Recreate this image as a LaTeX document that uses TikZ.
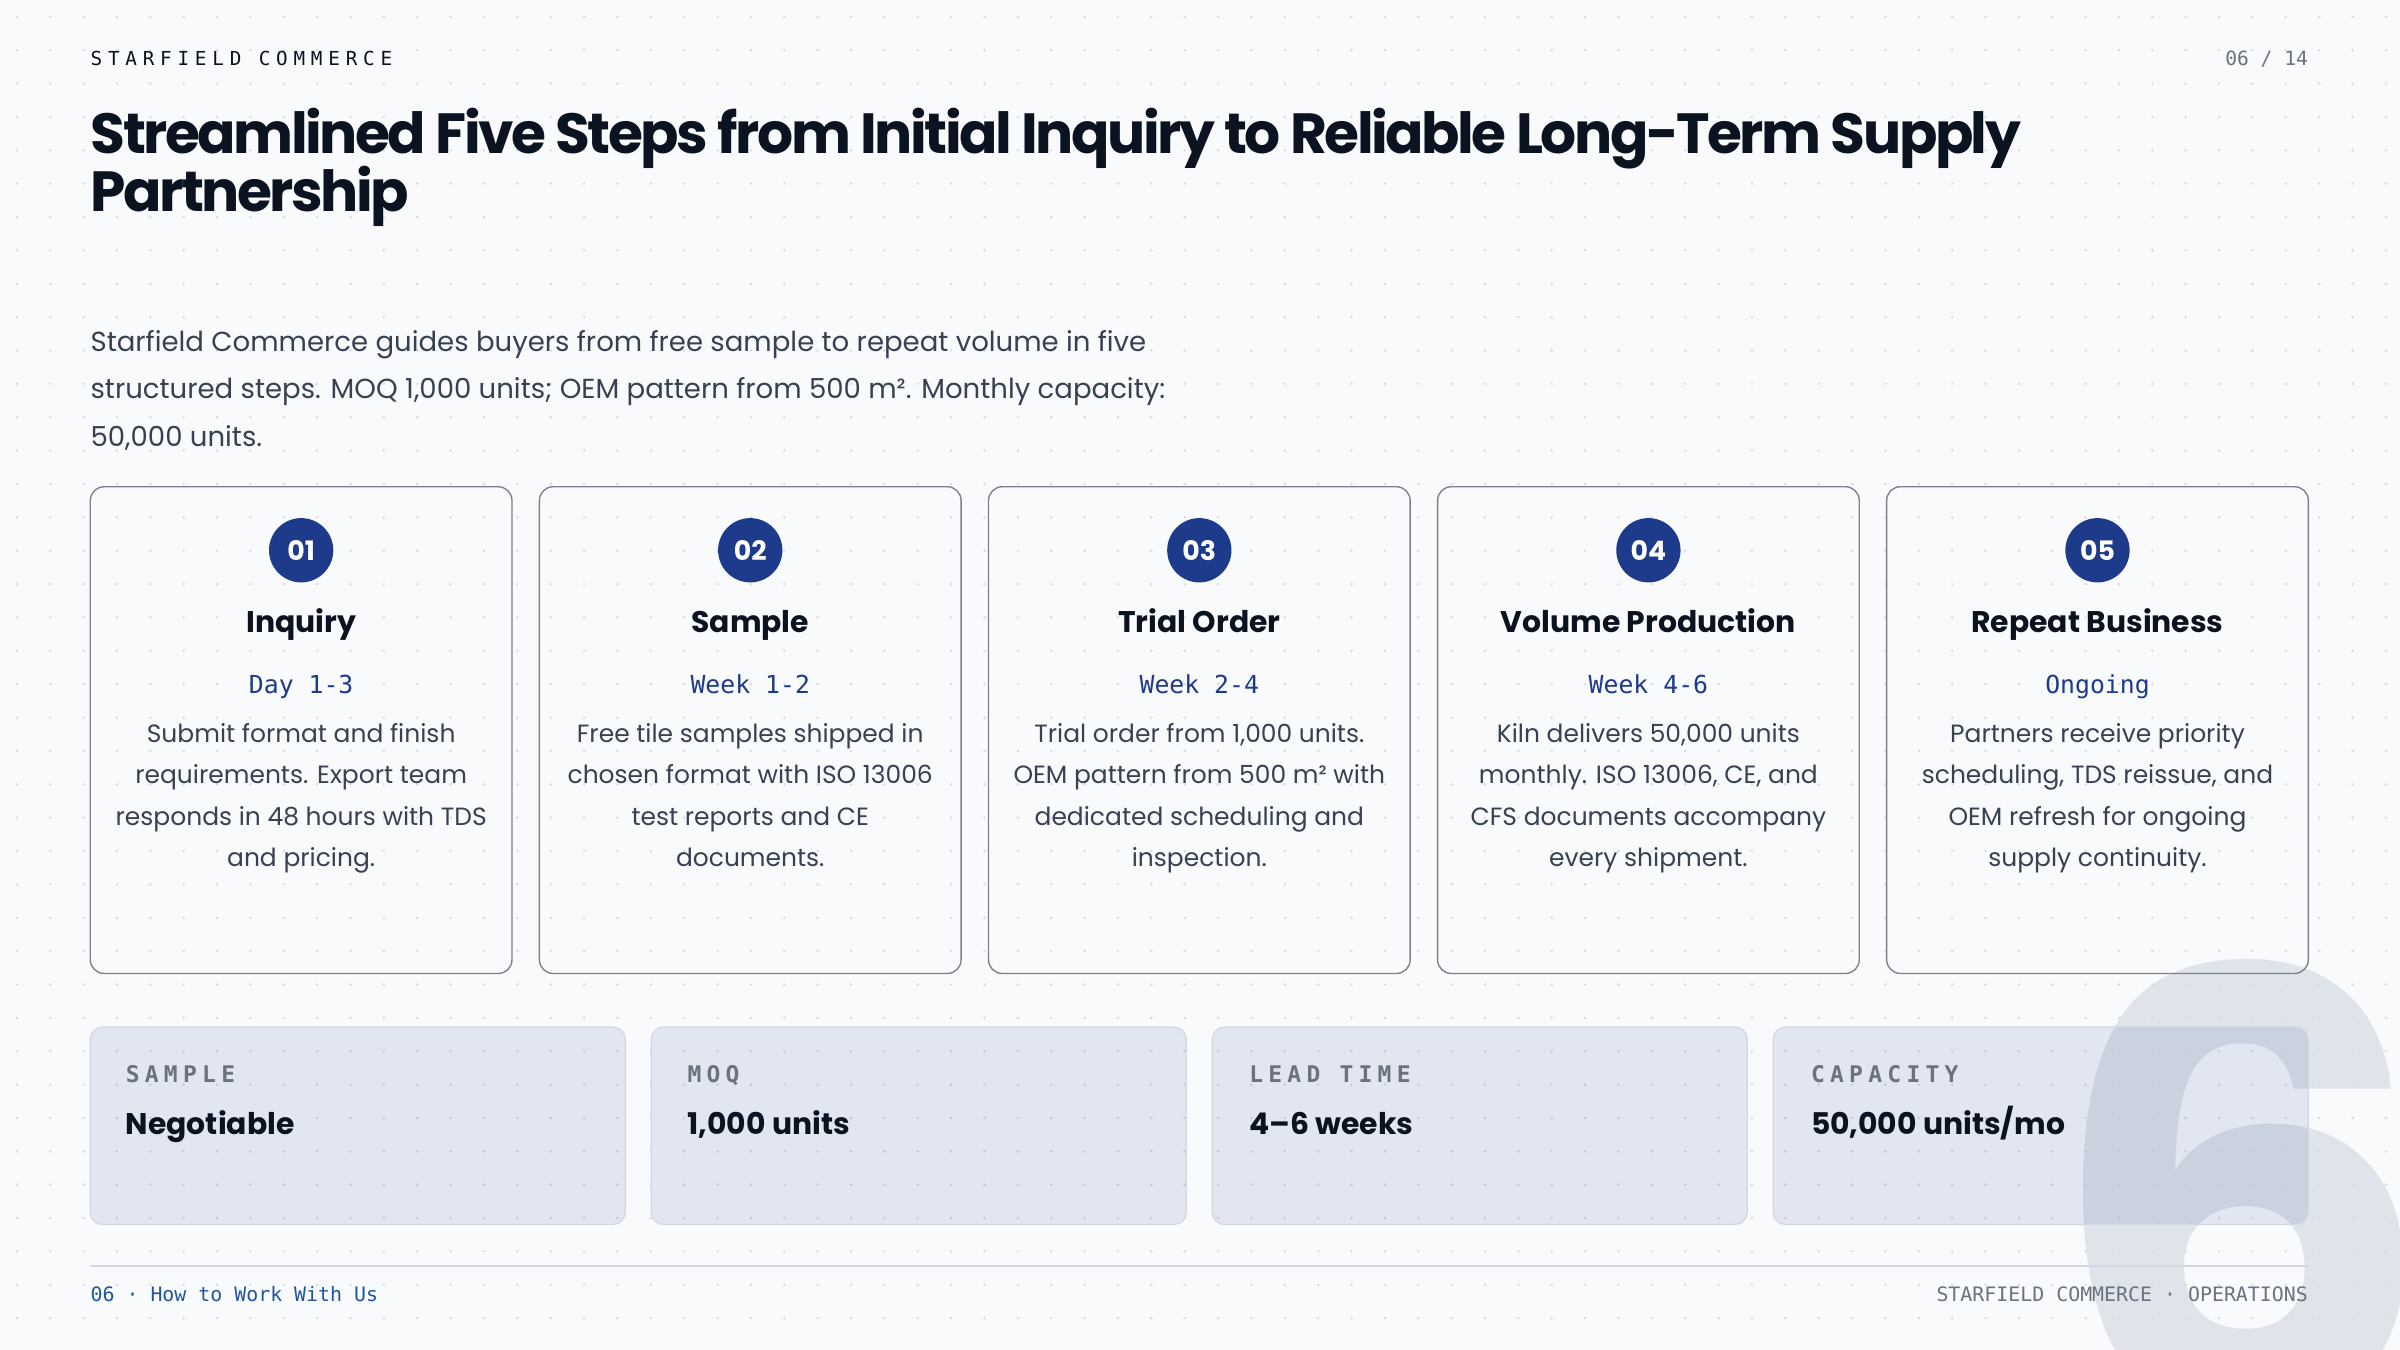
\documentclass[tikz,border=0pt]{standalone}
\usepackage{fontspec}
\setmainfont{Poppins}
\newfontfamily\monof{DejaVu Sans Mono}
\newfontfamily\monosp{DejaVu Sans Mono}[LetterSpace=30]
\newfontfamily\monolab{DejaVu Sans Mono}[LetterSpace=23]
\newfontfamily\titlef{Poppins}[LetterSpace=-4.4]
\definecolor{bgc}{HTML}{F8FAFC}
\definecolor{dotc}{HTML}{D3D9E1}
\definecolor{ink}{HTML}{0B1220}
\definecolor{bodyc}{HTML}{374151}
\definecolor{navy}{HTML}{1E3A8A}
\definecolor{grayc}{HTML}{6B7280}
\definecolor{cardline}{HTML}{7C828C}
\definecolor{statline}{HTML}{D2D7E0}
\definecolor{footblue}{HTML}{22569C}
\definecolor{sixc}{HTML}{94A3B8}
\begin{document}
\begin{tikzpicture}[x=1pt,y=-1pt,
  txt/.style={inner sep=0pt, anchor=base},
  card/.style={draw=cardline, line width=0.9pt, rounded corners=9pt, minimum width=275.5pt, minimum height=318pt, inner sep=0pt},
  stat/.style={draw=statline, line width=0.8pt, fill=navy, fill opacity=0.1, rounded corners=8pt, minimum width=349.5pt, minimum height=129pt, inner sep=0pt},
  badge/.style={circle, fill=navy, minimum size=42pt, inner sep=0pt, text=white, font=\fontsize{17.5}{17.5}\selectfont\bfseries},
  ctitle/.style={txt, text=ink, font=\fontsize{19.5}{20}\selectfont\bfseries},
  csub/.style={txt, text=navy, font=\fontsize{16.2}{17}\selectfont\monof},
  cbody/.style={txt, text=bodyc, font=\fontsize{16.3}{16.3}\selectfont},
  para/.style={txt, anchor=base west, text=bodyc, font=\fontsize{18}{18}\selectfont},
  slabel/.style={txt, anchor=base west, text=grayc, font=\fontsize{15}{15}\selectfont\monolab\bfseries},
  svalue/.style={txt, anchor=base west, text=ink, font=\fontsize{19.5}{19.5}\selectfont\bfseries},
  ttl/.style={txt, anchor=base west, text=ink, font=\fontsize{37}{37}\selectfont\titlef\bfseries}
]
\useasboundingbox (0,0) rectangle (1568,882);
\fill[bgc] (0,0) rectangle (1568,882);
% big watermark digit
\node[txt, anchor=base west, text=sixc, text opacity=0.25, font=\fontsize{400}{400}\selectfont\bfseries] (six) at (1336,925) {6};
% dot grid
\foreach \i in {0,...,72}{\foreach \j in {0,...,40}{\fill[dotc] (11+\i*21.8,11+\j*21.8) circle[radius=0.85pt];}}
% header
\node[txt, anchor=base west, text=ink, font=\fontsize{12.6}{12.6}\selectfont\monosp] (brand) at (59,42.5) {STARFIELD COMMERCE};
\node[txt, anchor=base east, text=grayc, font=\fontsize{12.8}{12.8}\selectfont\monof] (pg) at (1508,42.5) {06 / 14};
% title
\node[ttl] (t1) at (59,100.5) {Streamlined Five Steps from Initial Inquiry to Reliable Long-Term Supply};
\node[ttl] (t2) at (59,138) {Partnership};
% intro paragraph
\node[para] (p1) at (59,229.5) {Starfield Commerce guides buyers from free sample to repeat volume in five};
\node[para] (p2) at (59,260.5) {structured steps. MOQ 1,000 units; OEM pattern from 500 m². Monthly capacity:};
\node[para] (p3) at (59,291.5) {50,000 units.};
% cards
\node[card] (c1) at (196.75,477) {};
\node[card] (c2) at (490.15,477) {};
\node[card] (c3) at (783.55,477) {};
\node[card] (c4) at (1076.95,477) {};
\node[card] (c5) at (1370.35,477) {};
\node[badge] (b1) at (196.75,359.5) {01};
\node[badge] (b2) at (490.15,359.5) {02};
\node[badge] (b3) at (783.55,359.5) {03};
\node[badge] (b4) at (1076.95,359.5) {04};
\node[badge] (b5) at (1370.35,359.5) {05};
\node[ctitle] (h1) at (196.75,413) {Inquiry};
\node[ctitle] (h2) at (490.15,413) {Sample};
\node[ctitle] (h3) at (783.55,413) {Trial Order};
\node[ctitle] (h4) at (1076.95,413) {Volume Production};
\node[ctitle] (h5) at (1370.35,413) {Repeat Business};
\node[csub] (s1) at (196.75,453) {Day 1-3};
\node[csub] (s2) at (490.15,453) {Week 1-2};
\node[csub] (s3) at (783.55,453) {Week 2-4};
\node[csub] (s4) at (1076.95,453) {Week 4-6};
\node[csub] (s5) at (1370.35,453) {Ongoing};
% card 1 body
\node[cbody] (d1a) at (196.75,485) {Submit format and finish};
\node[cbody] (d1b) at (196.75,512) {requirements. Export team};
\node[cbody] (d1c) at (196.75,539) {responds in 48 hours with TDS};
\node[cbody] (d1d) at (196.75,566) {and pricing.};
% card 2 body
\node[cbody] (d2a) at (490.15,485) {Free tile samples shipped in};
\node[cbody] (d2b) at (490.15,512) {chosen format with ISO 13006};
\node[cbody] (d2c) at (490.15,539) {test reports and CE};
\node[cbody] (d2d) at (490.15,566) {documents.};
% card 3 body
\node[cbody] (d3a) at (783.55,485) {Trial order from 1,000 units.};
\node[cbody] (d3b) at (783.55,512) {OEM pattern from 500 m² with};
\node[cbody] (d3c) at (783.55,539) {dedicated scheduling and};
\node[cbody] (d3d) at (783.55,566) {inspection.};
% card 4 body
\node[cbody] (d4a) at (1076.95,485) {Kiln delivers 50,000 units};
\node[cbody] (d4b) at (1076.95,512) {monthly. ISO 13006, CE, and};
\node[cbody] (d4c) at (1076.95,539) {CFS documents accompany};
\node[cbody] (d4d) at (1076.95,566) {every shipment.};
% card 5 body
\node[cbody] (d5a) at (1370.35,485) {Partners receive priority};
\node[cbody] (d5b) at (1370.35,512) {scheduling, TDS reissue, and};
\node[cbody] (d5c) at (1370.35,539) {OEM refresh for ongoing};
\node[cbody] (d5d) at (1370.35,566) {supply continuity.};
% stat boxes
\node[stat] (k1) at (233.75,735.5) {};
\node[stat] (k2) at (600.25,735.5) {};
\node[stat] (k3) at (966.75,735.5) {};
\node[stat] (k4) at (1333.25,735.5) {};
\node[slabel] (l1) at (82,707.5) {SAMPLE};
\node[slabel] (l2) at (449,707.5) {MOQ};
\node[slabel] (l3) at (816,707.5) {LEAD TIME};
\node[slabel] (l4) at (1183,707.5) {CAPACITY};
\node[svalue] (v1) at (82,741) {Negotiable};
\node[svalue] (v2) at (449,741) {1,000 units};
\node[svalue] (v3) at (816,741) {4–6 weeks};
\node[svalue] (v4) at (1183,741) {50,000 units/mo};
% footer
\coordinate (fl) at (59,827);
\coordinate (fr) at (1508,827);
\draw[statline, line width=1.3pt] (fl) -- (fr);
\node[txt, anchor=base west, text=footblue, font=\fontsize{13}{13}\selectfont\monof] (fleft) at (59,850.5) {06 · How to Work With Us};
\node[txt, anchor=base east, text=grayc, font=\fontsize{13}{13}\selectfont\monof] (fright) at (1508,850.5) {STARFIELD COMMERCE · OPERATIONS};
\end{tikzpicture}
\end{document}
